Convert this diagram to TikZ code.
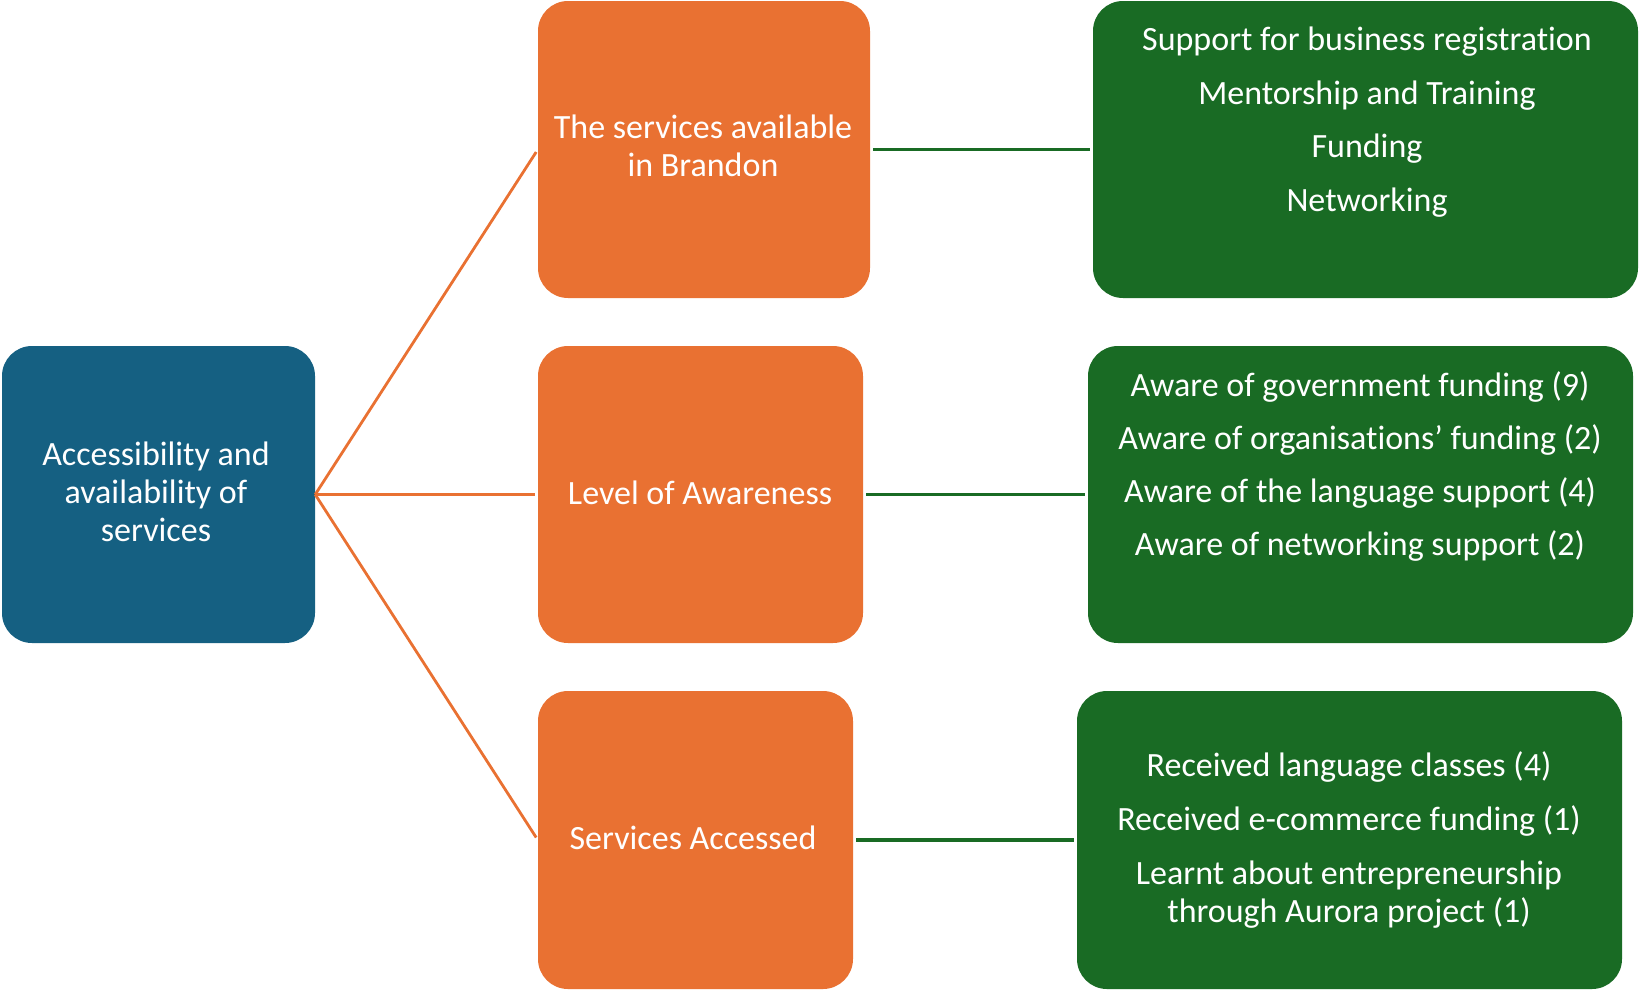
\documentclass[tikz,border=0pt]{standalone}
\usepackage{fontspec}
\setmainfont{Carlito}[Ligatures=NoCommon]
\definecolor{cblue}{HTML}{156082}
\definecolor{corange}{HTML}{E97132}
\definecolor{cgreen}{HTML}{196B24}
\begin{document}
\begin{tikzpicture}[x=1pt,y=-1pt,
  box/.style={draw=none,rounded corners=30pt,inner sep=0pt},
  rootbox/.style={box,fill=cblue},
  midbox/.style={box,fill=corange},
  leafbox/.style={box,fill=cgreen},
  txt/.style={text=white,align=center,inner sep=0pt,font=\fontsize{34}{38}\selectfont},
  oline/.style={draw=corange,line width=2.8pt,shorten >=3pt},
  gline/.style={draw=cgreen,line width=3.6pt,shorten <=3pt,shorten >=3pt}]
\useasboundingbox (0,0) rectangle (1639,989);
% boxes
\node[rootbox,minimum width=313pt,minimum height=297pt] (root) at (158.5,494.5) {};
\node[midbox,minimum width=332pt,minimum height=297pt] (o1) at (704,149.5) {};
\node[midbox,minimum width=325pt,minimum height=297pt] (o2) at (700.5,494.5) {};
\node[midbox,minimum width=315pt,minimum height=298pt] (o3) at (695.5,840) {};
\node[leafbox,minimum width=545pt,minimum height=297pt] (g1) at (1365.5,149.5) {};
\node[leafbox,minimum width=545pt,minimum height=297pt] (g2) at (1360.5,494.5) {};
\node[leafbox,minimum width=545pt,minimum height=298pt] (g3) at (1349.5,840) {};
% texts
\node[txt] (roott) at (156,492) {Accessibility and\\availability of\\services};
\node[txt] (o1t) at (703,146) {The services available\\in Brandon};
\node[txt] (o2t) at (700,493) {Level of Awareness};
\node[txt] (o3t) at (693,838) {Services Accessed};
\node[txt] (g1t) at (1367,122) {Support for business registration\\[15.5pt]Mentorship and Training\\[15.5pt]Funding\\[15.5pt]Networking};
\node[txt] (g2t) at (1360,466) {Aware of government funding (9)\\[15pt]Aware of organisations’ funding (2)\\[15pt]Aware of the language support (4)\\[15pt]Aware of networking support (2)};
\node[txt] (g3t) at (1349,840) {Received language classes (4)\\[16pt]Received e-commerce funding (1)\\[16pt]Learnt about entrepreneurship\\through Aurora project (1)};
% connectors
\draw[oline] (root.east) -- (o1.west);
\draw[oline] (root.east) -- (o2.west);
\draw[oline] (root.east) -- (o3.west);
\draw[gline] (o1.east) -- (g1.west);
\draw[gline] (o2.east) -- (g2.west);
\draw[gline] (o3.east) -- (g3.west);
\end{tikzpicture}
\end{document}
